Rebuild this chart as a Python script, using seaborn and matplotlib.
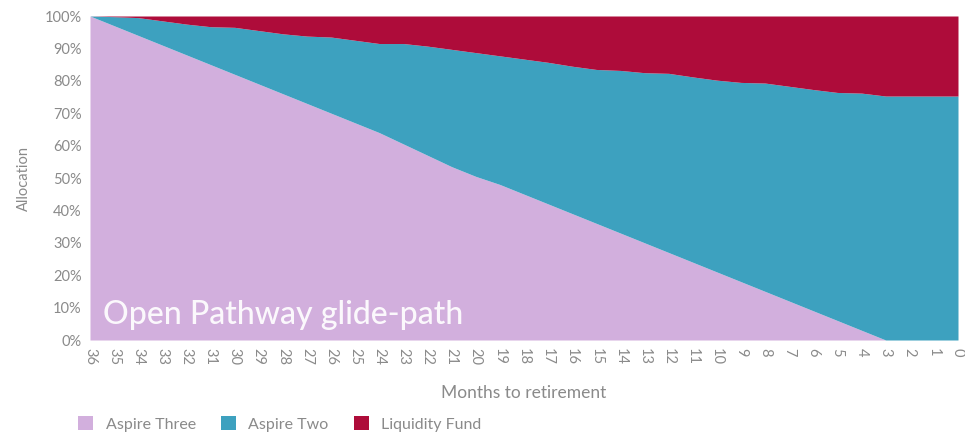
"""Open Pathway glide-path: stacked allocation by months to retirement."""

import matplotlib.pyplot as plt
import seaborn as sns
from matplotlib.patches import Patch

MONTHS = list(range(36, -1, -1))

ASPIRE_THREE = [100, 97, 94, 91, 88, 85, 82, 79, 76, 73, 70, 67, 64,
                60.5, 57, 53.5, 50.5, 48, 45, 42, 39, 36, 33, 30, 27,
                24, 21, 18, 15, 12, 9, 6, 3, 0, 0, 0, 0]

LIQUIDITY = [0, 0.2, 0.5, 1.5, 2.5, 3.3, 3.5, 4.5, 5.5, 6.2, 6.5, 7.5, 8.5,
             8.5, 9.3, 10.3, 11.3, 12.3, 13.3, 14.3, 15.5, 16.5, 16.8, 17.5,
             17.7, 18.8, 19.8, 20.5, 20.7, 21.7, 22.7, 23.6, 23.8, 24.7,
             24.7, 24.7, 24.7]

ASPIRE_TWO = [100 - a - l for a, l in zip(ASPIRE_THREE, LIQUIDITY)]

LABELS = ["Aspire Three", "Aspire Two", "Liquidity Fund"]
COLORS = ["#D2AFDD", "#3DA1BF", "#AE0C3A"]
Y_TICKS = list(range(0, 101, 10))

sns.set_theme(style="white")
plt.rcParams["font.family"] = ["Lato", "DejaVu Sans"]

fig, ax = plt.subplots(figsize=(9.65, 4.34), dpi=100)
fig.subplots_adjust(left=90 / 965, right=958 / 965, top=1 - 16 / 434, bottom=1 - 340 / 434)

ax.stackplot(MONTHS, ASPIRE_THREE, ASPIRE_TWO, LIQUIDITY, colors=COLORS, linewidth=0)
ax.set_xlim(36, 0)
ax.set_ylim(0, 100)
sns.despine(ax=ax, left=True, bottom=True)

grey = "#8a8a8a"
ax.set_xticks(MONTHS)
ax.set_xticklabels([str(m) for m in MONTHS], rotation=-90, fontsize=10.5, color=grey)
ax.set_yticks(Y_TICKS)
ax.set_yticklabels([f"{v}%" for v in Y_TICKS], fontsize=10.5, color=grey)
ax.tick_params(axis="both", length=0, pad=6)
ax.set_xlabel("Months to retirement", fontsize=12.5, color=grey, labelpad=14)
ax.set_ylabel("Allocation", fontsize=10.5, color=grey, labelpad=10)

ax.text(0.015, 0.05, "Open Pathway glide-path", transform=ax.transAxes,
        fontsize=23, color="white", alpha=0.92, fontweight="medium")

handles = [Patch(facecolor=c, edgecolor="none") for c in COLORS]
fig.legend(handles, LABELS, loc="center left", bbox_to_anchor=(64 / 965, 1 - 424 / 434),
           ncol=3, frameon=False, fontsize=11.5, labelcolor=grey,
           handlelength=0.9, handleheight=0.9, handletextpad=0.8, columnspacing=1.6)

fig.savefig("out.png", dpi=100)
plt.close(fig)
